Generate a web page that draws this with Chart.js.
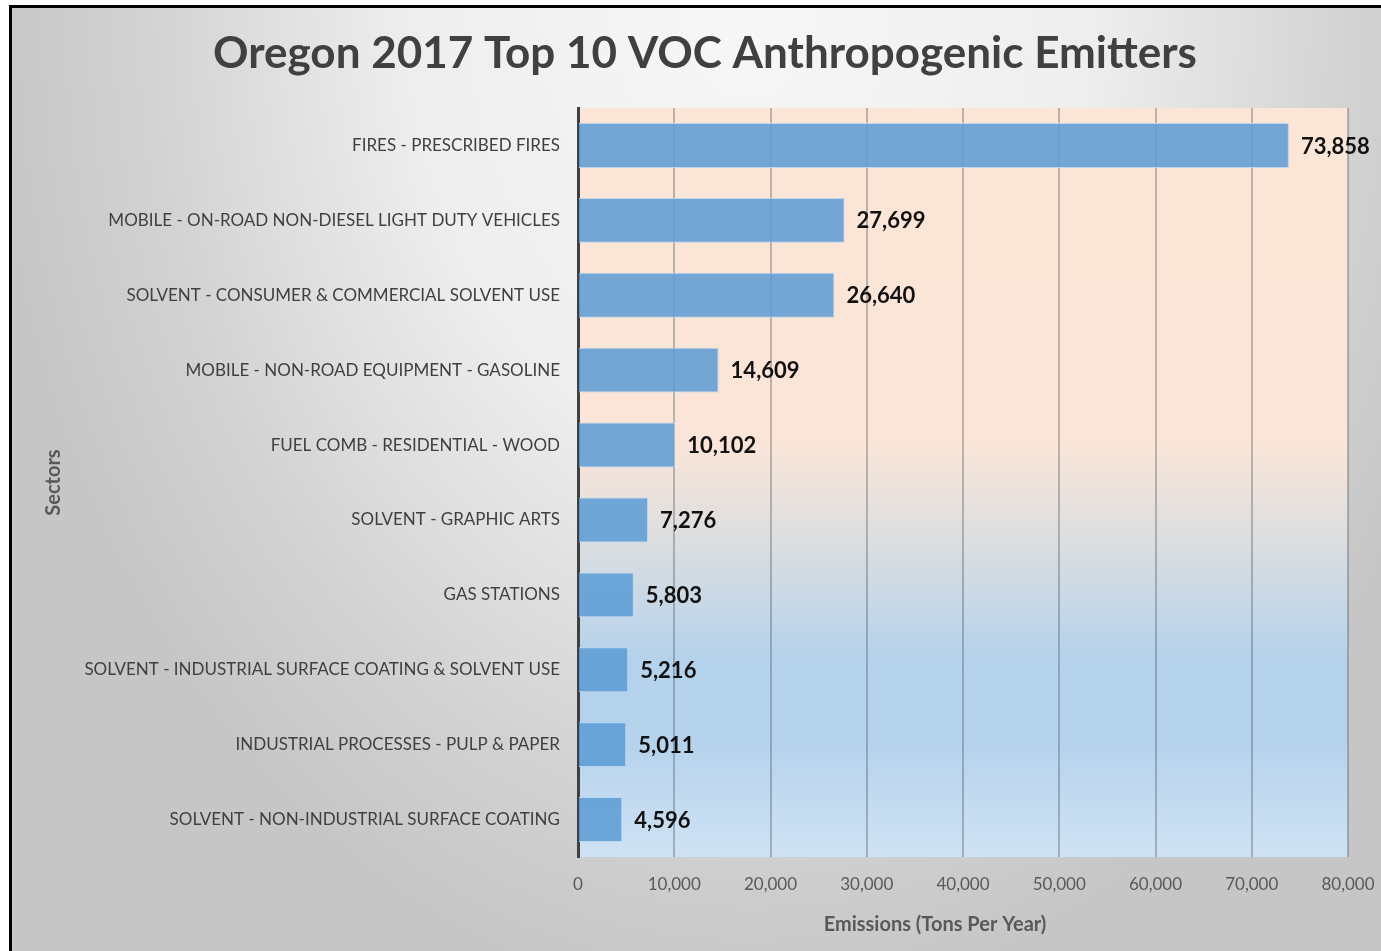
<!DOCTYPE html>
<html>
<head>
<meta charset="utf-8">
<title>Oregon 2017 Top 10 VOC Anthropogenic Emitters</title>
<script src="https://cdn.jsdelivr.net/npm/chart.js@4.4.1/dist/chart.umd.min.js"></script>
<style>
html, body { margin: 0; padding: 0; background: #fff; overflow: hidden; }
#frame { position: absolute; left: 9px; top: 5px; border-left: 3px solid #000; border-top: 3px solid #000; }
#chart { display: block; }
</style>
</head>
<body>
<div id="frame"><canvas id="chart" width="1386" height="943"></canvas></div>
<script>
const sectors = [
    "FIRES - PRESCRIBED FIRES",
    "MOBILE - ON-ROAD NON-DIESEL LIGHT DUTY VEHICLES",
    "SOLVENT - CONSUMER & COMMERCIAL SOLVENT USE",
    "MOBILE - NON-ROAD EQUIPMENT - GASOLINE",
    "FUEL COMB - RESIDENTIAL - WOOD",
    "SOLVENT - GRAPHIC ARTS",
    "GAS STATIONS",
    "SOLVENT - INDUSTRIAL SURFACE COATING & SOLVENT USE",
    "INDUSTRIAL PROCESSES - PULP & PAPER",
    "SOLVENT - NON-INDUSTRIAL SURFACE COATING"
];
const emissions = [73858, 27699, 26640, 14609, 10102, 7276, 5803, 5216, 5011, 4596];
const xMin = 0;
const xMax = 80000;
const xStep = 10000;
const chartTitle = 'Oregon 2017 Top 10 VOC Anthropogenic Emitters';
const xTitle = 'Emissions (Tons Per Year)';

const FONT = "Lato, 'Open Sans', sans-serif";

// grey backdrop + peach-to-blue plot area
const backgroundPlugin = {
    id: 'backgrounds',
    beforeDraw(chart) {
        const ctx = chart.ctx;
        const w = chart.width, h = chart.height;
        const cx = 738, cy = 0, rx = 760, ry = 1000;
        ctx.save();
        ctx.translate(cx, cy);
        ctx.scale(rx, ry);
        const g = ctx.createRadialGradient(0, 0, 0, 0, 0, 1);
        g.addColorStop(0, '#f7f7f7');
        g.addColorStop(0.45, '#eeeeee');
        g.addColorStop(0.8, '#d2d2d2');
        g.addColorStop(1, '#c6c6c6');
        ctx.fillStyle = g;
        ctx.fillRect(-cx / rx, -cy / ry, w / rx, h / ry);
        ctx.restore();

        const a = chart.chartArea;
        const pg = ctx.createLinearGradient(0, a.top, 0, a.bottom);
        pg.addColorStop(0, '#fbe5d6');
        pg.addColorStop(0.45, '#fae5d8');
        pg.addColorStop(0.56, '#e0dfdf');
        pg.addColorStop(0.74, '#b4d2ec');
        pg.addColorStop(0.85, '#b6d3ed');
        pg.addColorStop(1, '#cfe2f3');
        ctx.save();
        ctx.fillStyle = pg;
        ctx.fillRect(a.left, a.top, a.right - a.left, a.bottom - a.top);
        ctx.restore();
    }
};

// numbers at the end of each bar, plus the titles (Excel puts them off-centre)
const textPlugin = {
    id: 'texts',
    afterDatasetsDraw(chart) {
        const ctx = chart.ctx;
        const meta = chart.getDatasetMeta(0);
        const a = chart.chartArea;
        ctx.save();
        ctx.font = "bold 22px " + FONT;
        ctx.fillStyle = '#111';
        ctx.textAlign = 'left';
        ctx.textBaseline = 'middle';
        meta.data.forEach((bar, i) => {
            ctx.fillText(emissions[i].toLocaleString('en-US'), bar.x + 12, bar.y + 1);
        });

        ctx.textAlign = 'center';
        ctx.font = "bold 44px " + FONT;
        ctx.fillStyle = '#404040';
        ctx.fillText(chartTitle, 693, 46);

        ctx.font = "bold 20px " + FONT;
        ctx.fillStyle = '#595959';
        ctx.fillText(xTitle, (a.left + a.right) / 2 - 28, 917);
        ctx.restore();
    }
};

const ctx = document.getElementById('chart').getContext('2d');
new Chart(ctx, {
    type: 'bar',
    data: {
        labels: sectors,
        datasets: [{
            data: emissions,
            backgroundColor: 'rgba(91,155,213,0.85)',
            borderColor: '#bcd6ef',
            borderWidth: 1,
            barPercentage: 0.6,
            categoryPercentage: 1
        }]
    },
    options: {
        indexAxis: 'y',
        responsive: false,
        animation: false,
        layout: { padding: { left: 0, right: 50, top: 100, bottom: 0 } },
        plugins: {
            legend: { display: false },
            tooltip: { enabled: false },
            title: { display: false }
        },
        scales: {
            x: {
                type: 'linear',
                min: xMin,
                max: xMax,
                ticks: {
                    stepSize: xStep,
                    color: '#595959',
                    font: { family: FONT, size: 17 },
                    padding: 17
                },
                grid: { color: 'rgba(70,80,90,0.35)', lineWidth: 2, drawTicks: false },
                border: { display: false },
                afterFit(scale) { scale.height = 94; }
            },
            y: {
                type: 'category',
                ticks: {
                    color: '#404040',
                    font: { family: FONT, size: 17 },
                    padding: 18
                },
                grid: { display: false, drawTicks: false },
                border: { display: true, color: '#404040', width: 3 },
                title: {
                    display: true,
                    text: 'Sectors',
                    color: '#595959',
                    font: { family: FONT, size: 20, weight: 'bold' },
                    padding: { top: 30, bottom: 0 }
                },
                afterFit(scale) { scale.width = 566; }
            }
        }
    },
    plugins: [backgroundPlugin, textPlugin]
});
</script>
</body>
</html>
